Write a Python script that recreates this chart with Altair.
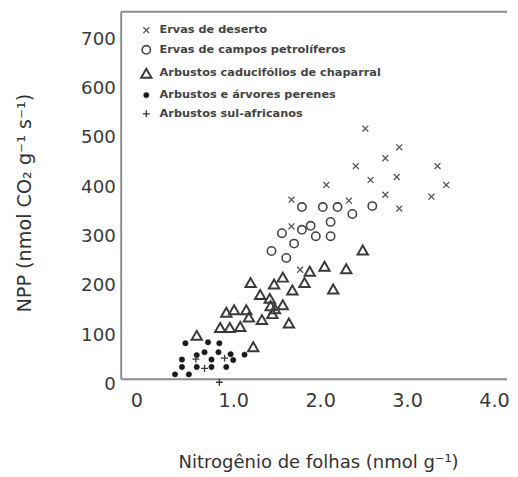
import altair as alt
import pandas as pd

groups = [
    "Ervas de deserto",
    "Ervas de campos petrolíferos",
    "Arbustos caducifólios de chaparral",
    "Arbustos e árvores perenes",
    "Arbustos sul-africanos",
]

# Ervas de deserto (x)
desert_n = [2.52, 2.91, 2.75, 2.41, 3.35, 2.58, 2.88, 2.07, 3.45, 2.75, 3.28, 2.91, 1.67, 2.33, 1.67, 1.77]
desert_npp = [517, 479, 457, 441, 441, 413, 419, 403, 403, 383, 379, 355, 373, 371, 319, 231]

# Ervas de campos petrolíferos (o)
oil_n = [1.79, 2.03, 2.20, 2.60, 2.37, 2.12, 1.79, 1.89, 1.56, 1.95, 2.12, 1.70, 1.44, 1.61]
oil_npp = [358, 358, 358, 360, 344, 328, 312, 320, 305, 299, 299, 284, 269, 255]

# Arbustos caducifólios de chaparral (triângulos)
chap_n = [2.49, 2.05, 2.30, 1.88, 1.57, 1.20, 1.47, 1.82, 2.15, 1.68, 1.31, 1.42, 1.43, 1.48,
          1.57, 1.45, 0.92, 1.01, 1.15, 1.18, 1.33, 1.64, 0.85, 0.96, 1.08, 0.58, 1.23]
chap_npp = [271, 238, 233, 228, 216, 205, 202, 205, 192, 190, 181, 173, 158, 152,
            160, 142, 145, 150, 150, 135, 130, 123, 114, 114, 116, 98, 75]

# Arbustos e árvores perenes (pontos)
ever_n = [0.33, 0.49, 0.41, 0.41, 0.45, 0.58, 0.58, 0.67, 0.71, 0.75, 0.75, 0.84, 0.83, 0.92, 0.97, 1.00, 1.13]
ever_npp = [19, 19, 34, 49, 82, 34, 58, 64, 84, 49, 34, 82, 64, 34, 60, 48, 59]

# Arbustos sul-africanos (+)
safr_n = [0.57, 0.67, 0.90, 0.84]
safr_npp = [50, 31, 52, 3]

y_ticks = [0, 100, 200, 300, 400, 500, 600, 700]
x_ticks = [0, 1, 2, 3, 4]

rows = []
for g, xs, ys in zip(groups,
                     [desert_n, oil_n, chap_n, ever_n, safr_n],
                     [desert_npp, oil_npp, chap_npp, ever_npp, safr_npp]):
    for a, b in zip(xs, ys):
        rows.append({"grupo": g, "n": a, "npp": b})
df = pd.DataFrame(rows)

X_DOM = [-0.289, 4.15]
Y_DOM = [0, 754]
FRAME = "#8c8c8c"
FONT = "DejaVu Sans"

x_path = "M-1,-1L1,1M-1,1L1,-1"
plus_path = "M-1,0L1,0M0,-1L0,1"

points = alt.Chart(df).mark_point(filled=False, opacity=1).encode(
    x=alt.X("n:Q",
            scale=alt.Scale(domain=X_DOM, nice=False, zero=False),
            axis=alt.Axis(values=x_ticks, grid=False, ticks=False, domain=False,
                          labelExpr="datum.value == 0 ? '0' : format(datum.value, '.1f')",
                          labelOffset={"condition": {"test": "datum.value == 0", "value": -10}, "value": 0},
                          labelFont=FONT, labelFontSize=19.5, labelColor="#3a3a3a",
                          labelPadding=8,
                          title="Nitrogênio de folhas (nmol g⁻¹)",
                          titleFont=FONT, titleFontSize=18.3, titleFontWeight="normal",
                          titleColor="#333333", titlePadding=45, titleX=200, titleAlign="center")),
    y=alt.Y("npp:Q",
            scale=alt.Scale(domain=Y_DOM, nice=False, zero=False),
            axis=alt.Axis(values=y_ticks, grid=False, ticks=False, domain=False,
                          labelFont=FONT, labelFontSize=18.5, labelColor="#3a3a3a",
                          labelPadding=6,
                          title="NPP (nmol CO₂ g⁻¹ s⁻¹)",
                          titleFont=FONT, titleFontSize=19.5, titleFontWeight="normal",
                          titleColor="#333333", titlePadding=47, titleY=194, titleAlign="center")),
    shape=alt.Shape("grupo:N", sort=groups,
                    scale=alt.Scale(domain=groups,
                                    range=[x_path, "circle", "triangle-up", "circle", plus_path]),
                    legend=alt.Legend(title=None, orient="none", legendX=19, legendY=13,
                                      labelFont=FONT, labelFontSize=11.5, labelFontWeight="bold",
                                      labelColor="#444444", labelOffset=7, rowPadding=6,
                                      padding=0, labelLimit=400)),
    stroke=alt.Stroke("grupo:N", sort=groups,
                      scale=alt.Scale(domain=groups,
                                      range=["#555555", "#444444", "#3a3a3a", "#1a1a1a", "#333333"]),
                      legend=alt.Legend(title=None)),
    fill=alt.Fill("grupo:N", sort=groups,
                  scale=alt.Scale(domain=groups,
                                  range=["transparent", "transparent", "transparent", "#1a1a1a", "transparent"]),
                  legend=alt.Legend(title=None)),
    size=alt.Size("grupo:N", sort=groups,
                  scale=alt.Scale(type="ordinal", domain=groups, range=[36, 72, 110, 30, 49]),
                  legend=alt.Legend(title=None)),
    strokeWidth=alt.StrokeWidth("grupo:N", sort=groups,
                                scale=alt.Scale(type="ordinal", domain=groups,
                                                range=[1.3, 1.6, 2.0, 0.5, 1.3]),
                                legend=alt.Legend(title=None)),
)

top_line = alt.Chart().mark_rule(color=FRAME, strokeWidth=2).encode(y=alt.datum(Y_DOM[1]))
bottom_line = alt.Chart().mark_rule(color=FRAME, strokeWidth=2).encode(y=alt.datum(9))
left_line = alt.Chart().mark_rule(color=FRAME, strokeWidth=2).encode(
    x=alt.datum(X_DOM[0]), y=alt.datum(9), y2=alt.datum(Y_DOM[1]))

chart = alt.layer(top_line, bottom_line, left_line, points).properties(
    width=392, height=378,
    autosize=alt.AutoSizeParams(type="none"),
    padding={"left": 115, "top": 0, "right": 3, "bottom": 90},
).configure_view(stroke=None)

chart.save("out.html", embed_options={"renderer": "svg", "actions": False})
